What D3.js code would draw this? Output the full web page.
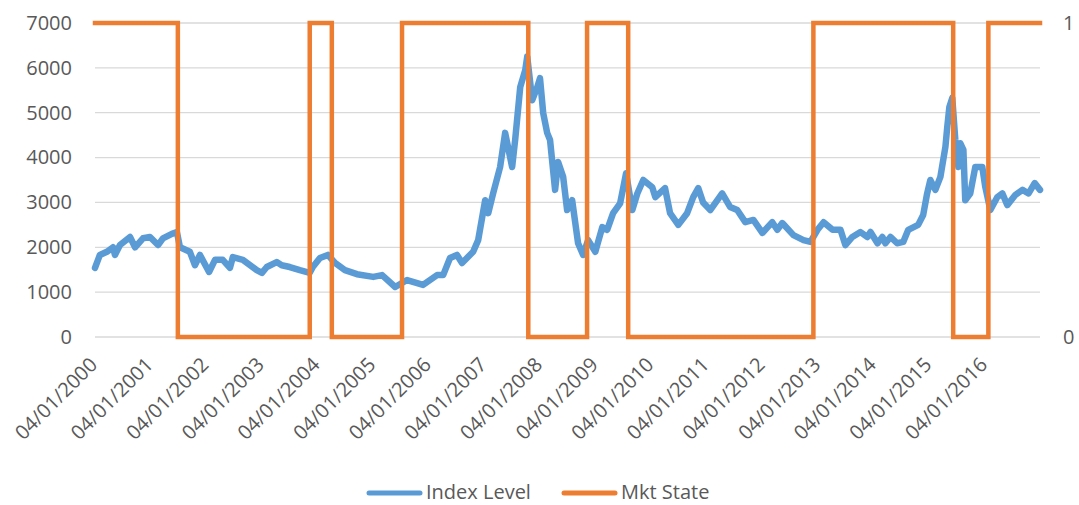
<!DOCTYPE html>
<html>
<head>
<meta charset="utf-8">
<script src="https://cdn.jsdelivr.net/npm/d3@7"></script>
<style>
  html, body { margin: 0; padding: 0; background: #fff; }
  text { font-family: "Open Sans", sans-serif; fill: #595959; }
</style>
</head>
<body>
<svg id="chart" width="1079" height="505"></svg>
<script>
// Index level observations (date, level)
const indexDates = [
  "2000-01-04","2000-02-05","2000-03-22","2000-05-01","2000-05-14","2000-06-16","2000-08-21","2000-09-23",
  "2000-11-14","2000-12-30","2001-02-21","2001-03-25","2001-05-23","2001-06-25","2001-07-15","2001-09-18",
  "2001-10-21","2001-11-23","2002-01-22","2002-03-02","2002-04-22","2002-06-08","2002-06-27","2002-09-01",
  "2002-12-01","2003-01-04","2003-02-05","2003-04-11","2003-05-14","2003-07-06","2003-09-10","2003-11-14",
  "2003-12-04","2004-01-20","2004-03-12","2004-04-28","2004-07-02","2004-09-19","2005-01-04","2005-03-03",
  "2005-05-28","2005-08-14","2005-11-27","2006-02-27","2006-04-08","2006-05-23","2006-07-08","2006-08-10",
  "2006-10-22","2006-11-24","2007-01-09","2007-01-29","2007-03-02","2007-04-17","2007-05-20","2007-07-05",
  "2007-07-25","2007-08-27","2007-09-29","2007-10-12","2007-11-14","2007-12-17","2008-01-04","2008-01-25",
  "2008-02-20","2008-03-10","2008-04-12","2008-05-02","2008-06-04","2008-06-30","2008-08-02","2008-09-10",
  "2008-10-13","2008-11-15","2009-01-01","2009-02-16","2009-03-20","2009-04-28","2009-06-13","2009-07-22",
  "2009-09-01","2009-10-04","2009-11-12","2010-01-10","2010-01-30","2010-04-04","2010-05-07","2010-06-30",
  "2010-08-27","2010-10-06","2010-11-08","2010-12-10","2011-01-26","2011-04-14","2011-06-05","2011-07-22",
  "2011-09-13","2011-11-05","2012-01-03","2012-03-08","2012-04-10","2012-05-13","2012-07-25","2012-09-29",
  "2012-11-14","2012-12-30","2013-02-08","2013-04-08","2013-05-30","2013-07-01","2013-08-16","2013-10-08",
  "2013-11-23","2013-12-13","2014-01-28","2014-03-01","2014-03-21","2014-04-23","2014-06-06","2014-07-16",
  "2014-08-18","2014-10-22","2014-11-24","2014-12-20","2015-01-10","2015-02-12","2015-03-17","2015-04-19",
  "2015-05-01","2015-05-15","2015-06-03","2015-06-23","2015-07-13","2015-07-26","2015-08-15","2015-08-27",
  "2015-09-29","2015-11-01","2015-12-17","2016-01-06","2016-02-08","2016-03-25","2016-04-27","2016-05-29",
  "2016-07-22","2016-09-06","2016-10-16","2016-11-25","2016-12-30"
];
const indexValues = [
  1540,1830,1900,2000,1830,2050,2230,2000,
  2200,2230,2050,2200,2300,2340,2000,1900,
  1600,1830,1450,1720,1720,1540,1780,1720,
  1490,1430,1560,1670,1600,1560,1490,1430,
  1560,1760,1830,1650,1490,1400,1340,1380,
  1115,1270,1160,1380,1380,1760,1830,1650,
  1900,2160,3050,2760,3200,3790,4550,3790,
  4400,5570,5950,6250,5280,5570,5770,4990,
  4550,4390,3280,3900,3570,2830,3050,2090,
  1830,2160,1900,2450,2390,2760,2980,3650,
  2830,3200,3500,3340,3120,3320,2760,2500,
  2760,3120,3320,3000,2830,3200,2900,2830,
  2560,2610,2320,2560,2390,2540,2270,2160,
  2120,2390,2560,2390,2390,2050,2230,2340,
  2230,2340,2090,2230,2090,2230,2090,2120,
  2390,2500,2720,3200,3500,3280,3570,4240,
  4680,5130,5330,4390,3790,4320,4170,3050,
  3200,3790,3790,3340,2830,3120,3200,2940,
  3170,3280,3200,3430,3280
];

// Market state regime changes (state holds until the next date)
const stateDates = [
  "2000-01-04","2001-07-01","2003-11-14","2004-04-07","2005-07-12","2007-10-19",
  "2008-11-08","2009-08-05","2012-12-03","2015-06-09","2016-01-26","2016-12-30"
];
const stateValues = [1,0,1,0,1,0,1,0,1,0,1,1];

const leftTicks = [0,1000,2000,3000,4000,5000,6000,7000];
const rightTicks = [0,1];
const tickYears = d3.range(2000, 2017);
const seriesNames = ["Index Level", "Mkt State"];
const seriesColors = ["#5B9BD5", "#ED7D31"];

const parse = d3.timeParse("%Y-%m-%d");
const indexData = indexDates.map((d, i) => ({ date: parse(d), value: indexValues[i] }));
const stateData = stateDates.map((d, i) => ({ date: parse(d), value: stateValues[i] }));

const plot = { left: 95, right: 1040, top: 23, bottom: 337 };
const svg = d3.select("#chart");

const x = d3.scaleTime()
  .domain([parse(indexDates[0]), parse(indexDates[indexDates.length - 1])])
  .range([plot.left, plot.right]);
const y = d3.scaleLinear().domain([0, 7000]).range([plot.bottom, plot.top]);
const y2 = d3.scaleLinear().domain([0, 1]).range([plot.bottom, plot.top]);

// Horizontal gridlines
svg.append("g")
  .selectAll("line")
  .data(leftTicks)
  .join("line")
  .attr("x1", plot.left).attr("x2", plot.right)
  .attr("y1", d => y(d)).attr("y2", d => y(d))
  .attr("stroke", "#D9D9D9").attr("stroke-width", 1.3);

// Left axis labels
const yAxis = d3.axisLeft(y).tickValues(leftTicks).tickFormat(d3.format("d")).tickSize(0).tickPadding(23);
const gy = svg.append("g").attr("transform", `translate(${plot.left},0)`).call(yAxis);
gy.select(".domain").remove();
gy.selectAll("text").style("font-size", "20px").style("font-family", "Open Sans").attr("fill", "#595959");

// Right axis labels
const y2Axis = d3.axisRight(y2).tickValues(rightTicks).tickFormat(d3.format("d")).tickSize(0).tickPadding(23);
const gy2 = svg.append("g").attr("transform", `translate(${plot.right},0)`).call(y2Axis);
gy2.select(".domain").remove();
gy2.selectAll("text").style("font-size", "20px").style("font-family", "Open Sans").attr("fill", "#595959");

// Bottom axis: rotated date labels
const fmt = d3.timeFormat("%d/%m/%Y");
const xTicks = tickYears.map(yr => new Date(yr, 0, 4));
const xAxis = d3.axisBottom(x).tickValues(xTicks).tickFormat(fmt).tickSize(0).tickPadding(0);
const gx = svg.append("g").attr("transform", `translate(0,${plot.bottom})`).call(xAxis);
gx.select(".domain").remove();
gx.selectAll("text")
  .style("font-size", "20px").style("font-family", "Open Sans").attr("fill", "#595959")
  .attr("text-anchor", "end")
  .attr("dy", null).attr("y", 0)
  .attr("transform", "translate(3,29) rotate(-45)");

// Index level line
svg.append("path")
  .datum(indexData)
  .attr("fill", "none")
  .attr("stroke", seriesColors[0])
  .attr("stroke-width", 6.5)
  .attr("stroke-linejoin", "round")
  .attr("stroke-linecap", "round")
  .attr("d", d3.line().x(d => x(d.date)).y(d => y(d.value)));

// Market state step line
svg.append("path")
  .datum(stateData)
  .attr("fill", "none")
  .attr("stroke", seriesColors[1])
  .attr("stroke-width", 4.5)
  .attr("stroke-linejoin", "miter")
  .attr("stroke-linecap", "square")
  .attr("d", d3.line().curve(d3.curveStepAfter).x(d => x(d.date)).y(d => y2(d.value)));

// Legend
const legendItems = [
  { name: seriesNames[0], color: seriesColors[0], x: 367 },
  { name: seriesNames[1], color: seriesColors[1], x: 562 }
];
const lg = svg.append("g");
legendItems.forEach(it => {
  lg.append("line")
    .attr("x1", it.x + 2).attr("x2", it.x + 53)
    .attr("y1", 493).attr("y2", 493)
    .attr("stroke", it.color).attr("stroke-width", 5).attr("stroke-linecap", "round");
  lg.append("text")
    .attr("x", it.x + 59).attr("y", 499)
    .style("font-size", "20px")
    .text(it.name);
});
</script>
</body>
</html>
